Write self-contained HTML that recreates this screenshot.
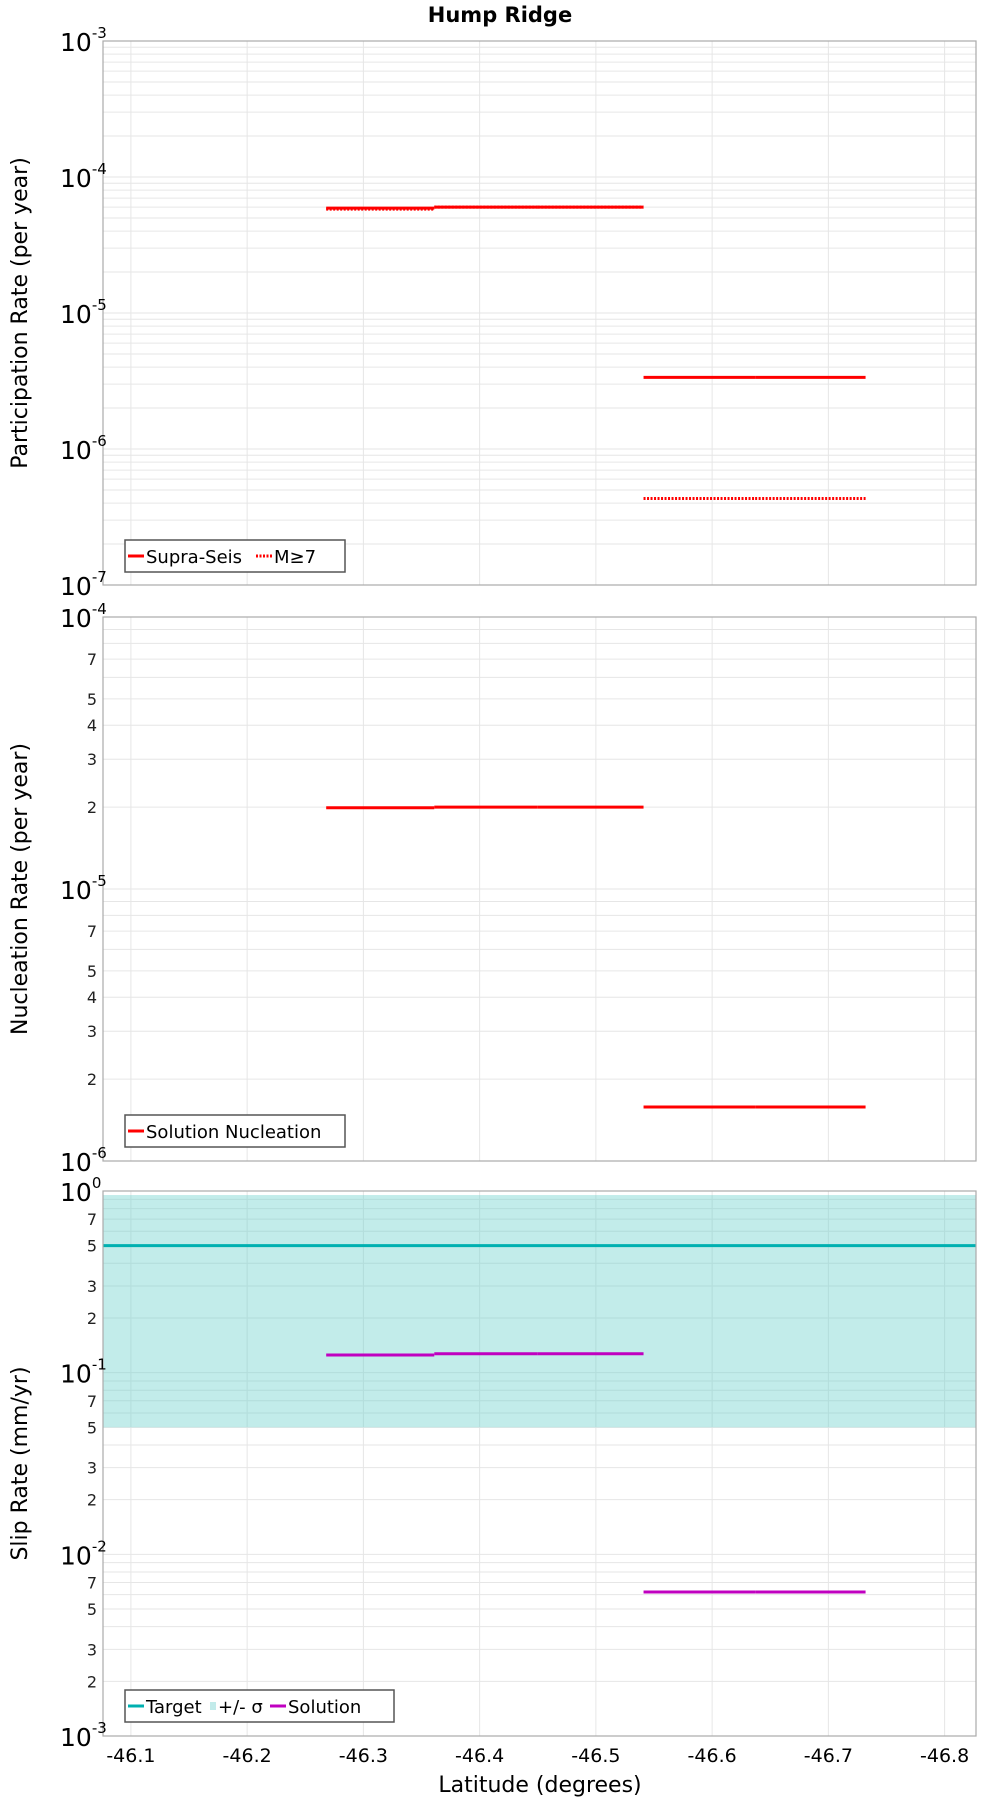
<!DOCTYPE html>
<html><head><meta charset="utf-8"><style>
html,body{margin:0;padding:0;background:#fff;}
svg{display:block;font-family:"DejaVu Sans","Liberation Sans",sans-serif;}
</style></head><body>
<svg id="chart" width="1000" height="1800" viewBox="0 0 1000 1800" xmlns="http://www.w3.org/2000/svg">
<text x="500" y="22" text-anchor="middle" font-size="21" font-weight="bold">Hump Ridge</text>
<g id="layer"></g>
</svg>
<script>
// Data
const segBounds = [-46.268, -46.361, -46.45, -46.541, -46.637, -46.732];
const supraSeis = [5.9e-5, 6.0e-5, 6.0e-5, 3.36e-6, 3.36e-6];
const m7 = [5.8e-5, 6.0e-5, 6.0e-5, 4.33e-7, 4.33e-7];
const nucleation = [1.99e-5, 2.0e-5, 2.0e-5, 1.58e-6, 1.58e-6];
const slipSolution = [0.125, 0.127, 0.127, 0.0062, 0.0062];
const slipTarget = [0.5];
const slipBand = [0.05, 0.95];
const xTicks = [-46.1, -46.2, -46.3, -46.4, -46.5, -46.6, -46.7, -46.8];
const xDomain = [-46.076, -46.827];

const NS = "http://www.w3.org/2000/svg";
const layer = document.getElementById('layer');
const L = 103, R = 976;
function xs(v){ return L + (v - xDomain[0]) / (xDomain[1] - xDomain[0]) * (R - L); }
function mk(tag, attrs, parent){
  const e = document.createElementNS(NS, tag);
  for (const k in attrs) e.setAttribute(k, attrs[k]);
  (parent || layer).appendChild(e);
  return e;
}
function panel(cfg){
  const g = mk('g', {});
  
  
  const ys = v => cfg.top + (cfg.maxExp - Math.log10(v)) / (cfg.maxExp - cfg.minExp) * (cfg.bottom - cfg.top);
  // grid
  for (let e = cfg.minExp; e < cfg.maxExp; e++) {
    for (let m = 1; m <= 9; m++) {
      const y = ys(m * Math.pow(10, e));
      const gl = mk('line', {x1: L, x2: R, y1: y, y2: y, stroke: '#e6e6e6', 'stroke-width': 1}, g);
      
      
    }
  }
  xTicks.forEach(t => {
    const vl = mk('line', {x1: xs(t), x2: xs(t), y1: cfg.top, y2: cfg.bottom, stroke: '#e6e6e6', 'stroke-width': 1}, g);
    
    
  });
  if (cfg.band) {
    const b = mk('rect', {x: L, width: R - L, y: ys(cfg.band[1]), height: ys(cfg.band[0]) - ys(cfg.band[1]), fill: 'rgba(110,210,205,0.42)'}, g);
    
    
  }
  if (cfg.target) {
    const t = mk('line', {x1: L, x2: R, y1: ys(cfg.target[0]), y2: ys(cfg.target[0]), stroke: '#00b0b0', 'stroke-width': 3}, g);
    
    
  }
  cfg.series.forEach(s => {
    s.vals.forEach((v, i) => {
      const ln = mk('line', {x1: xs(segBounds[i]), x2: xs(segBounds[i + 1]), y1: ys(v), y2: ys(v), stroke: s.color, 'stroke-width': 3}, g);
      if (s.dash) ln.setAttribute('stroke-dasharray', '2,1.5');
      
      
    });
  });
  const fr = mk('rect', {x: L, y: cfg.top, width: R - L, height: cfg.bottom - cfg.top, fill: 'none', stroke: '#aaa', 'stroke-width': 1.2}, g);
  
  
  // y tick labels
  for (let e = cfg.minExp; e <= cfg.maxExp; e++) {
    const y = ys(Math.pow(10, e));
    const t = mk('text', {x: 60, y: y + 10, 'font-size': 25}, g);
    t.textContent = '10';
    const sup = mk('tspan', {dy: -13, 'font-size': 15}, t);
    sup.textContent = String(e);
    
    
    if (e < cfg.maxExp) {
      cfg.minors.forEach(m => {
        const mt = mk('text', {x: 97, y: ys(m * Math.pow(10, e)) + 6, 'font-size': 16, 'text-anchor': 'end', fill: '#222'}, g);
        mt.textContent = String(m);
        
        
      });
    }
  }
  const cy = (cfg.top + cfg.bottom) / 2;
  const yt = mk('text', {x: 0, y: 0, 'font-size': 22, 'text-anchor': 'middle', transform: `translate(27,${cy}) rotate(-90)`}, g);
  yt.textContent = cfg.ylabel;
  
  
  // legend
  const lg = mk('g', {}, g);
  
  
  mk('rect', {x: 125, y: cfg.legY, width: cfg.legW, height: 32, fill: '#fff', stroke: '#555', 'stroke-width': 1.5}, lg);
  let x = 128;
  cfg.legend.forEach(it => {
    const sw = it.band
      ? mk('rect', {x: x, y: cfg.legY + 12, width: 6, height: 8, fill: '#c2ebea'}, lg)
      : mk('line', {x1: x, x2: x + 16, y1: cfg.legY + 16, y2: cfg.legY + 16, stroke: it.color, 'stroke-width': 3, 'stroke-dasharray': it.dash ? '2,1.5' : 'none'}, lg);
    
    
    x += it.band ? 8 : 18;
    const lt = mk('text', {x: x, y: cfg.legY + 23, 'font-size': 18}, lg);
    lt.textContent = it.label;
    
    
    x += it.w;
  });
}
panel({name: 'participation-panel', top: 41, bottom: 585, minExp: -7, maxExp: -3, minors: [],
  ylabel: 'Participation Rate (per year)',
  series: [{name: 'm-ge-7', vals: m7, color: '#ff0000', dash: true}, {name: 'supra-seis', vals: supraSeis, color: '#ff0000'}],
  legY: 540, legW: 220,
  legend: [{label: 'Supra-Seis', color: '#f00', w: 110}, {label: 'M≥7', color: '#f00', dash: true, w: 50}]});
panel({name: 'nucleation-panel', top: 617, bottom: 1161, minExp: -6, maxExp: -4, minors: [2, 3, 4, 5, 7],
  ylabel: 'Nucleation Rate (per year)',
  series: [{name: 'solution-nucleation', vals: nucleation, color: '#ff0000'}],
  legY: 1115, legW: 220,
  legend: [{label: 'Solution Nucleation', color: '#f00', w: 190}]});
panel({name: 'slip-rate-panel', top: 1191, bottom: 1736, minExp: -3, maxExp: 0, minors: [2, 3, 5, 7],
  ylabel: 'Slip Rate (mm/yr)', band: slipBand, target: slipTarget,
  series: [{name: 'solution', vals: slipSolution, color: '#c000c0'}],
  legY: 1690, legW: 269,
  legend: [{label: 'Target', color: '#00b0b0', w: 64}, {label: '+/- σ', band: true, w: 52}, {label: 'Solution', color: '#c000c0', w: 80}]});
xTicks.forEach(t => {
  const tl = mk('text', {x: xs(t), y: 1762, 'font-size': 19, 'text-anchor': 'middle'});
  tl.textContent = t.toFixed(1);
  
  
});
const xt = mk('text', {x: 540, y: 1792, 'font-size': 22, 'text-anchor': 'middle'});
xt.textContent = 'Latitude (degrees)';


</script>
</body></html>
